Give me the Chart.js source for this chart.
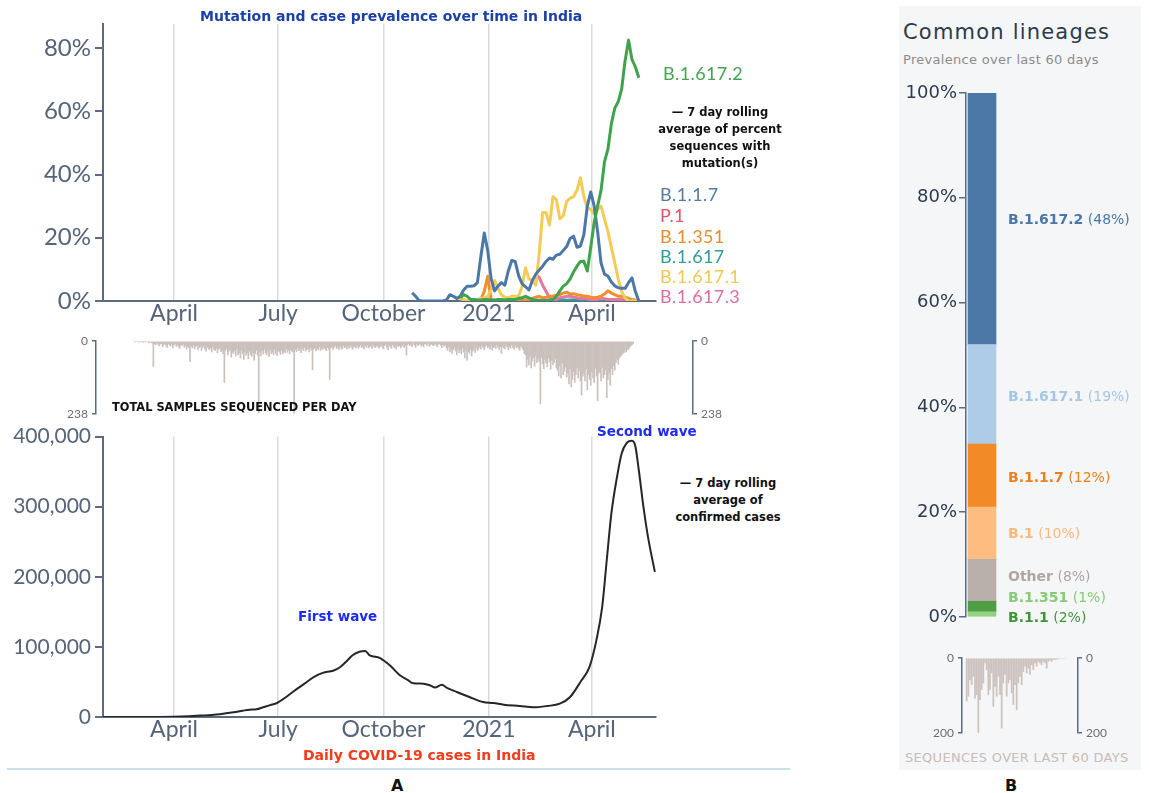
<!DOCTYPE html>
<html>
<head>
<meta charset="utf-8">
<script src="https://cdn.jsdelivr.net/npm/chart.js@4.4.1/dist/chart.umd.min.js"></script>
<style>
  body { margin: 0; background: #fff; }
  #page { position: relative; width: 1149px; height: 793px; overflow: hidden; background: #fff; }
  canvas { position: absolute; }
  .t { position: absolute; white-space: nowrap; line-height: 1; transform: translateY(-50%); }
  .heavy { font-family: 'DejaVu Sans', sans-serif; font-weight: bold; }
  .note { position: absolute; font-family: 'DejaVu Sans', sans-serif; font-weight: bold; font-size: 11.5px;
          line-height: 17px; text-align: center; color: #111; transform: translateX(-50%); white-space: nowrap; }
  .lin { font-family: 'DejaVu Sans', sans-serif; font-size: 14px; }
  .lin b { font-weight: 600; }
</style>
</head>
<body>
<div id="page">
  <div style="position:absolute;left:899px;top:6px;width:242px;height:764px;background:#f5f6f8"></div>
  <div style="position:absolute;left:7px;top:768px;width:783px;height:2px;background:#c9dfe9"></div>

  <canvas id="mutations" width="660" height="330" style="left:0;top:0"></canvas>
  <canvas id="samples" width="760" height="95" style="left:0;top:330px"></canvas>
  <canvas id="cases" width="660" height="326" style="left:0;top:420px"></canvas>
  <canvas id="lineages" width="241" height="550" style="left:900px;top:80px"></canvas>
  <canvas id="recent" width="240" height="100" style="left:900px;top:645px"></canvas>

  <div class="t heavy" style="left:200px;top:16px;font-size:14px;color:#1b41a9">Mutation and case prevalence over time in India</div>
  <div class="note" style="left:720px;top:104px">— 7 day rolling<br>average of percent<br>sequences with<br>mutation(s)</div>
  <div class="t heavy" style="left:112px;top:408px;font-size:11.4px;color:#111">TOTAL SAMPLES SEQUENCED PER DAY</div>
  <div class="t heavy" style="left:597px;top:432px;font-size:13.5px;color:#1d2cf0">Second wave</div>
  <div class="t heavy" style="left:298px;top:617px;font-size:13.5px;color:#1d2cf0">First wave</div>
  <div class="note" style="left:728px;top:475px">— 7 day rolling<br>average of<br>confirmed cases</div>
  <div class="t heavy" style="left:303px;top:755px;font-size:14px;color:#f23c1a">Daily COVID-19 cases in India</div>
  <div class="t heavy" style="left:391px;top:786px;font-size:16px;color:#111">A</div>
  <div class="t heavy" style="left:1005px;top:786px;font-size:16px;color:#111">B</div>

  <div class="t" style="left:903px;top:32px;font-family:'DejaVu Sans';font-size:21px;letter-spacing:1.2px;color:#2c3a4b">Common lineages</div>
  <div class="t" style="left:903px;top:59px;font-family:'DejaVu Sans';font-size:13px;letter-spacing:0.3px;color:#8c8c8c">Prevalence over last 60 days</div>
  <div class="t" style="left:905px;top:757px;font-family:'DejaVu Sans';font-size:13px;letter-spacing:0.3px;color:#c8bcb7">SEQUENCES OVER LAST 60 DAYS</div>
</div>

<script>
// x positions are days since 30 Jan 2020
const monthTickDays = [62, 153, 245, 337, 427];
const monthTickLabels = ['April', 'July', 'October', '2021', 'April'];

// ---- mutation prevalence, % of sequences (7 day average), every 3 days ----
const mutDays = [270, 273, 276, 279, 282, 285, 288, 291, 294, 297, 300, 303, 306, 309, 312, 315, 318, 321, 324, 327,
  330, 333, 336, 339, 342, 345, 348, 351, 354, 357, 360, 363, 366, 369, 372, 375, 378, 381, 384, 387,
  390, 393, 396, 399, 402, 405, 408, 411, 414, 417, 420, 423, 426, 429, 432, 435, 438, 441, 444, 447,
  450, 453, 456, 459, 462, 465, 468];

const b1617_2 = [null, null, null, null, null, null, null, null, null, null, null, null, null, null,
  1, 2, 1.5, 0.5, 0.5, 0.3, 0.3, 0.5, 0.5, 0.3, 0.3, 0.5, 0.5, 0.3, 0.5, 0.5,
  0.5, 0.8, 1, 1.5, 1, 0.5, 0.2, 0, 0, 0, 0.2, 0.5, 1.5, 3.2, 4.7, 5.5, 7, 9.2, 11, 12.5,
  12.6, 9.5, 17, 24.8, 30, 35, 44, 48, 56, 61, 63, 67, 76, 82.5, 76.4, 74, 70.6];

const b117 = [2.6, 1.5, 0.2, 0, 0, 0, 0, 0, 0, 0, 0.3, 2, 1.5, 0.8, 1.5, 3.5, 4.7, 4.7, 4.8, 5.8,
  14, 21.5, 16, 7, 3.2, 4.7, 5.8, 5, 9.5, 12.8, 12.5, 8, 5.5, 4.5, 3.5, 6.5, 8.5, 9.8, 11, 12.5,
  13.6, 13.2, 14.5, 14.8, 16, 17.2, 19.8, 20.5, 17, 17.4, 21, 30, 34.5, 30, 22, 12, 8.5, 7.9, 6, 4.8,
  4.2, 4, 4, 5.8, 7.3, 3, 0];

const b1617_1 = [null, null, null, null, null, null, null, null, null, null, null, null,
  1.6, 1, 0.7, 0.5, 0.2, 0, 0.2, 0.5, 0.8, 1, 1.5, 3.5, 6.5, 4, 2, 1.2, 1, 1.5,
  1.5, 1.5, 4.5, 10.5, 7, 6.5, 5, 15, 28, 28, 24, 33, 32, 26, 27, 31.5, 32.5, 33, 35, 39,
  33, 29.5, 29, 27.5, 29, 30, 26, 22, 17, 12, 7, 3, 1, 0, 0, 0, 0];

const b1351 = [null, null, null, null, null, null, null, null, null, null, null, null, null, null, null, null, null, null, null,
  0, 0.5, 3, 7.8, 0.5, 0.2, 0, 0, 0.2, 0.3, 0.2, 0.2, 0.5, 0.5, 0.3, 0.5, 0.8, 1.2, 1.5, 1, 1.2,
  1.5, 1.5, 1.8, 2, 2.5, 2.8, 2.2, 2.3, 2, 1.8, 1.5, 1.5, 1.2, 1, 1.2, 1.5, 2.2, 3.2, 2.5, 2,
  1.5, 1.5, 1.2, 0.8, 0.5, 0.3, 0];

const b1617_3 = [null, null, null, null, null, null, null, null, null, null, null, null, null, null, null, null, null, null,
  null, null, null, null, null, null, null, null, null, null, null, null, null, null, null, null, null, null,
  8.4, 7.5, 5, 3, 1, 0.3, 0.5, 1, 1.2, 1.5, 1.5, 1.2, 1, 0.8, 0.8, 0.7, 0.5, 0.5, 0.5, 0.8,
  0.7, 0.5, 0.5, 0.5, 0.5, 0.5, 0.3, 0.3, 0.2, 0, 0];

const b1617 = [null, null, null, null, null, null, null, null, null, null, null, null, null, null, null, null,
  null, null, null, null, null, null, null, null, null, null, null, null, null, null, null, null,
  0, 0.2, 0.3, 0.2, 0.3, 0.2, 0.3, 0.2, 0.3, 0.5, 0.4, 0.3, 0.3, 0.2, 0.3, 0.3, 0.2, 0.3, 0.4, 0.3,
  0.3, 0.2, 0.2, 0.3, 0.3, 0.2, 0.2, 0.3, 0.2, 0.2, 0.2, 0.1, 0.1, 0, 0];

const p1 = [null, null, null, null, null, null, null, null, null, null, null, null, null, null, null, null, null, null, null, null,
  null, null, null, null, null, null, null, null, null, null, null, null, null, null, null, null, null, null, null, null,
  0, 0, 0, 0, 0, 0, 0, 0, 0, 0, 0, 0, 0, 0, 0, 0, 0, 0, 0, 0, 0, 0, 0, 0, 0, 0, 0];

const mutNames = ['B.1.617.2', 'B.1.1.7', 'B.1.617.1', 'B.1.351', 'B.1.617.3', 'B.1.617', 'P.1'];
const mutValues = [b1617_2, b117, b1617_1, b1351, b1617_3, b1617, p1];
const mutColors = ['#3fa34d', '#4c78a8', '#f2cc55', '#f28e2b', '#e377a6', '#2aa198', '#e8506a'];
const pctTicks = [0, 20, 40, 60, 80];

// ---- total samples sequenced per day, from day 27 ----
const sampleStartDay = 27;
const samplesPerDay = [
  0, 2, 0, 0, 3, 0, 1, 0, 4, 0, 2, 0, 0, 5, 2, 3, 6,
  83, 8, 12, 6, 10, 15, 9, 7, 18, 11, 8, 14, 20, 9, 12, 16, 10, 22, 13, 8, 17, 12, 19, 24, 11, 15, 9, 20, 14, 26, 18, 21,
  67, 16, 22, 12, 25, 18, 14, 28, 20, 17, 30, 22, 15, 26, 33, 19, 24, 28, 21, 35, 18, 27, 31, 23, 38, 26, 22, 34, 29, 41,
  135, 30, 24, 45, 33, 28, 52, 36, 40, 31, 48, 26, 44, 38, 55, 30, 42, 60, 35, 47, 39, 58, 33, 44, 50, 36, 62, 41, 29, 46,
  237, 35, 48, 30, 42, 26, 38, 45, 32, 50, 28, 40, 36, 44, 27, 39, 47, 31, 35, 43, 29, 41, 34, 38, 25, 37, 30, 42, 28, 33, 36,
  237, 28, 34, 22, 31, 26, 38, 24, 30, 20, 33, 27, 25, 35, 22, 29, 93, 26, 21, 32, 24, 28, 19, 30, 23, 27, 21, 25, 31, 20, 26,
  125, 22, 18, 27, 20, 15, 24, 19, 28, 16, 22, 26, 14, 21, 18, 25, 17, 23, 13, 20, 26, 16, 19, 22, 14, 24, 18, 12, 21, 17,
  25, 15, 20, 13, 22, 18, 16, 24, 12, 19, 21, 15, 17, 23,
  18, 12, 20, 25, 15, 10, 22, 28, 14, 19, 24, 11, 17, 21, 26, 13, 18, 15, 22, 16, 12, 20, 14,
  46, 12, 8, 15, 10, 18, 6, 13, 20, 9, 14, 11, 7, 16, 12, 19, 8, 10, 14, 6, 17, 11, 9, 13, 15, 7, 12, 18, 10, 8, 14, 21, 11, 16, 13,
  22, 30, 18, 35, 25, 40, 28, 20, 33, 45, 26, 38, 30, 42, 24, 36, 55, 29, 62, 34, 40, 27, 48, 32, 25, 37, 20, 30, 26,
  18, 25, 14, 20, 28, 16, 12, 22, 19, 26, 15, 30, 21, 17, 24, 13, 20, 27, 18, 40, 16, 22, 25, 14, 19, 28, 17, 23, 12, 20,
  26, 15, 21, 18, 24, 30, 16, 22, 28,
  40, 45, 85, 60, 78, 50, 88, 65, 55, 82, 48, 70, 58, 66, 206, 52, 75, 90, 60, 72,
  84, 55, 68, 92, 62, 78, 70, 58, 88, 95, 114, 80, 120, 72, 110, 98, 85, 118, 105, 140,
  90, 150, 125, 100, 135, 110, 88, 120, 95, 130, 176, 115, 105, 130, 92, 160, 110, 125, 145, 100,
  120, 135, 90, 115, 196, 105, 100, 130, 85, 120, 110, 95, 185, 125, 105, 145, 90, 110, 80, 95,
  70, 60, 75, 55, 50, 45, 40, 38, 30, 35, 25, 28, 20, 15, 12, 8];
const sampleTicks = [0, 238];

// ---- daily confirmed cases, 7 day average ----
const caseDays = [0, 20, 40, 61, 75, 85, 95, 102, 114, 122, 128, 134, 140, 146, 152, 160, 166, 172, 176, 184,
  192, 201, 207, 213, 218, 224, 229, 233, 242, 251, 259, 266, 271, 280, 286, 290, 296, 300, 309, 320,
  332, 341, 350, 364, 376, 388, 399, 408, 417, 425, 431, 436, 440, 444, 449, 453, 457, 462, 465, 468,
  472, 476, 482];
const caseValues = [0, 0, 0, 300, 1000, 2000, 3000, 4000, 6700, 9000, 10500, 11000, 14000, 17000, 20000, 28600, 36000, 43000, 47600, 57000,
  63000, 66000, 71000, 80000, 88000, 93000, 94000, 88000, 84000, 73000, 60000, 53000, 48000, 47600, 45000, 42000, 46000, 42000, 35700, 28600,
  21400, 20000, 17600, 15700, 13800, 15700, 19000, 28600, 50000, 71900, 110000, 157000, 224000, 290000, 343000, 376000, 390000, 394000, 386000, 352000,
  300000, 257000, 207000];
const caseTicks = [0, 100000, 200000, 300000, 400000];

// ---- common lineages, last 60 days (bottom to top) ----
const lineageNames = ['B.1.351', 'B.1.1', 'Other', 'B.1', 'B.1.1.7', 'B.1.617.1', 'B.1.617.2'];
const lineagePct = [1, 2, 8, 10, 12, 19, 48];
const lineageColors = ['#8fd27f', '#4f9e46', '#b9b0ac', '#fdbd80', '#f28a27', '#aecbe8', '#4c78a8'];
const lineageTextColors = ['#84cc72', '#3e9638', '#afa5a1', '#fdb77a', '#ef7f1b', '#a6c6e6', '#4a76a8'];
const lineageTicks = [0, 20, 40, 60, 80, 100];

// ---- sequences over last 60 days ----
const recentSeq = [115, 102, 58, 71, 49, 107, 98, 200, 111, 84, 67, 13, 31, 98, 84, 40, 129, 76, 102, 49,
  98, 187, 67, 44, 102, 67, 58, 93, 124, 71, 138, 67, 49, 71, 36, 22, 40, 27, 44, 18,
  31, 13, 22, 9, 13, 18, 9, 13, 27, 9, 6, 9, 4, 4, 3, 3, 0, 0, 0, 0];
const recentTicks = [0, 200];

// ---------------------------------------------------------------
Chart.defaults.font.family = 'Lato, sans-serif';
Chart.defaults.animation = false;
Chart.defaults.plugins.legend.display = false;
Chart.defaults.plugins.tooltip.enabled = false;

const AXIS = '#5b6b80';
const TICK_TEXT = '#55647a';

function fixedTicks(list) {
  return s => { s.ticks = list.map(v => ({ value: v })); };
}

function monthAxis() {
  return {
    type: 'linear', min: 0, max: 483,
    afterBuildTicks: fixedTicks(monthTickDays),
    ticks: {
      callback: v => monthTickLabels[monthTickDays.indexOf(v)],
      autoSkip: false, maxRotation: 0, padding: -1,
      color: TICK_TEXT, font: { size: 23 }
    },
    grid: { color: '#dadada', lineWidth: 1.5, drawTicks: false },
    border: { color: AXIS, width: 2 },
    afterFit: s => { s.height = 29; }
  };
}

// top: mutation lines
new Chart(document.getElementById('mutations'), {
  type: 'line',
  data: {
    datasets: mutNames.map((name, k) => ({
      label: name,
      data: mutDays.map((d, i) => ({ x: d, y: mutValues[k][i] })).filter(p => p.y !== null),
      borderColor: mutColors[k],
      borderWidth: 3,
      pointRadius: 0,
      borderJoinStyle: 'round'
    }))
  },
  options: {
    responsive: false,
    layout: { padding: { top: 24, right: 4 } },
    scales: {
      x: monthAxis(),
      y: {
        min: 0, max: 87.6,
        afterBuildTicks: fixedTicks(pctTicks),
        ticks: { callback: v => v + '%', color: TICK_TEXT, font: { size: 24 }, padding: 4 },
        grid: { drawOnChartArea: false, color: AXIS, tickLength: 8, lineWidth: 2 },
        border: { color: AXIS, width: 2 },
        afterFit: s => { s.width = 103; }
      }
    }
  }
});

// middle: samples per day, hanging bars
function bracketAxis(pos, width, ticks, max) {
  return {
    position: pos, reverse: true, min: 0, max: max,
    afterBuildTicks: fixedTicks(ticks),
    ticks: { color: '#6d6d6d', font: { size: 12 }, padding: 4 },
    grid: { drawOnChartArea: false, color: AXIS, tickLength: 4, lineWidth: 1.5 },
    border: { color: AXIS, width: 1.5 },
    afterFit: s => { s.width = width; }
  };
}

new Chart(document.getElementById('samples'), {
  type: 'bar',
  data: {
    datasets: [{
      data: samplesPerDay.map((v, i) => ({ x: sampleStartDay + i, y: v })),
      backgroundColor: '#cbc0bb',
      barThickness: 1
    }]
  },
  options: {
    responsive: false,
    layout: { padding: { top: 8, bottom: 10 } },
    scales: {
      x: { type: 'linear', display: false, offset: false, min: -6.11, max: 515.3 },
      y: bracketAxis('left', 96, sampleTicks, 238),
      y2: bracketAxis('right', 67, sampleTicks, 238)
    }
  }
});

// bottom: confirmed cases
new Chart(document.getElementById('cases'), {
  type: 'line',
  data: {
    datasets: [{
      data: caseDays.map((d, i) => ({ x: d, y: caseValues[i] })),
      borderColor: '#262626',
      borderWidth: 2,
      pointRadius: 0,
      cubicInterpolationMode: 'monotone'
    }]
  },
  options: {
    responsive: false,
    layout: { padding: { top: 15, right: 4 } },
    scales: {
      x: monthAxis(),
      y: {
        min: 0, max: 400000,
        afterBuildTicks: fixedTicks(caseTicks),
        ticks: { callback: v => v.toLocaleString('en-US'), color: TICK_TEXT, font: { size: 21 }, padding: 4 },
        grid: { drawOnChartArea: false, color: AXIS, tickLength: 8, lineWidth: 2 },
        border: { color: AXIS, width: 2 },
        afterFit: s => { s.width = 103; }
      }
    }
  }
});

// panel B: stacked lineage bar
new Chart(document.getElementById('lineages'), {
  type: 'bar',
  data: {
    labels: [''],
    datasets: lineageNames.map((n, i) => ({
      label: n, data: [lineagePct[i]], backgroundColor: lineageColors[i], barThickness: 28
    }))
  },
  options: {
    responsive: false,
    layout: { padding: { top: 13, bottom: 13, right: 143 } },
    scales: {
      x: { display: false, stacked: true },
      y: {
        stacked: true, min: 0, max: 100,
        afterBuildTicks: fixedTicks(lineageTicks),
        ticks: { callback: v => v + '%', color: '#2b3b50', font: { family: 'DejaVu Sans', size: 18 }, padding: 2 },
        grid: { drawOnChartArea: false, color: AXIS, tickLength: 7, lineWidth: 1.5 },
        border: { color: AXIS, width: 1.5 },
        afterFit: s => { s.width = 66; }
      }
    }
  }
});

// panel B: sequences over last 60 days
new Chart(document.getElementById('recent'), {
  type: 'bar',
  data: {
    datasets: [{
      data: recentSeq.map((v, i) => ({ x: i, y: v })),
      backgroundColor: '#cdc3be',
      barThickness: 1.1
    }]
  },
  options: {
    responsive: false,
    layout: { padding: { top: 13, bottom: 12 } },
    scales: {
      x: { type: 'linear', display: false, offset: false, min: -2.8, max: 66.8 },
      y: bracketAxis('left', 62, recentTicks, 200),
      y2: bracketAxis('right', 62, recentTicks, 200)
    }
  }
});

// text labels next to the charts
const page = document.getElementById('page');
function addLabel(html, x, y, cls, style) {
  const d = document.createElement('div');
  d.className = 't ' + cls;
  d.innerHTML = html;
  d.style.left = x + 'px';
  d.style.top = y + 'px';
  Object.assign(d.style, style);
  page.appendChild(d);
}

const mutLabelY = { 'B.1.617.2': 73, 'B.1.1.7': 194, 'P.1': 215, 'B.1.351': 236, 'B.1.617': 256, 'B.1.617.1': 276, 'B.1.617.3': 296 };
const mutLabelColors = { 'B.1.617.2': '#45a352', 'B.1.1.7': '#55799f', 'P.1': '#e9506a', 'B.1.351': '#ea8c2e',
  'B.1.617': '#2f9f94', 'B.1.617.1': '#f0c856', 'B.1.617.3': '#de6ea4' };
mutNames.forEach(n => {
  addLabel(n, n === 'B.1.617.2' ? 663 : 660, mutLabelY[n], '', {
    fontFamily: 'Lato', fontSize: '18px', color: mutLabelColors[n], letterSpacing: '0.4px'
  });
});

const lineageLabelY = [597, 617, 576, 533, 477, 396, 219];
lineageNames.forEach((n, i) => {
  addLabel('<b>' + n + '</b> (' + lineagePct[i] + '%)', 1008, lineageLabelY[i], 'lin', { color: lineageTextColors[i] });
});
</script>
</body>
</html>
